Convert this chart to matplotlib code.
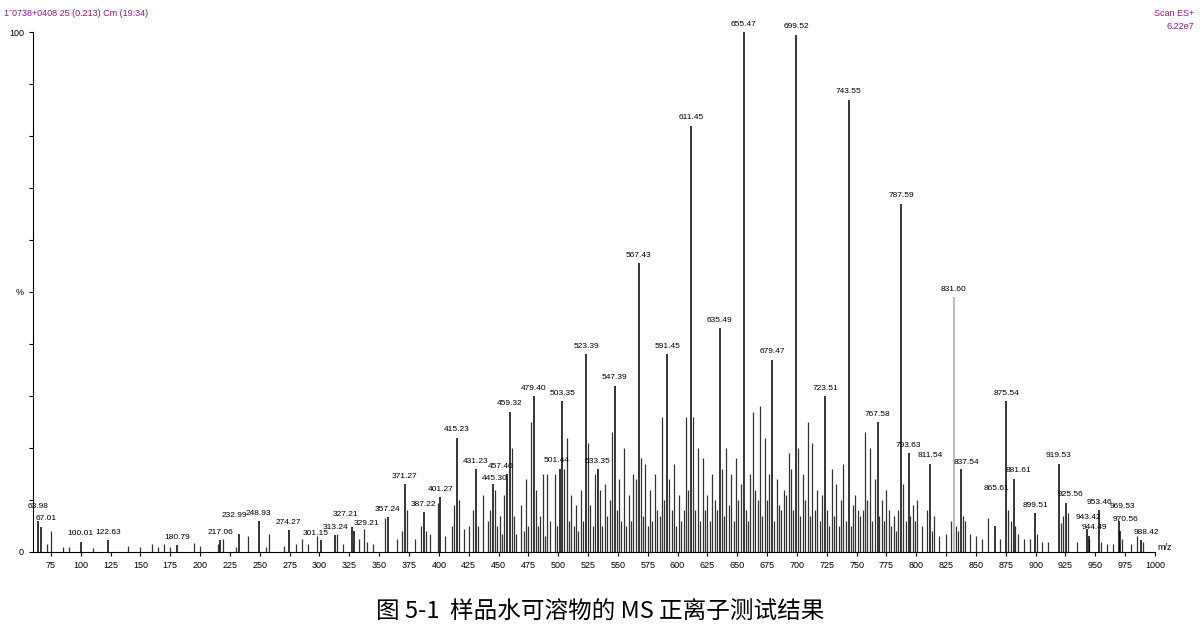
import matplotlib.pyplot as plt
import numpy as np

plt.rcParams['font.family'] = ['Liberation Sans', 'DejaVu Sans']

# labelled peaks (m/z, relative intensity %)
label_mz = [63.98, 67.01, 100.01, 122.63, 180.79, 217.06, 232.99, 248.93, 274.27, 301.15,
            313.24, 327.21, 329.21, 357.24, 371.27, 387.22, 401.27, 415.23, 431.23, 445.30,
            457.40, 459.32, 479.40, 501.44, 503.35, 523.39, 533.35, 547.39, 567.43, 591.45,
            611.45, 635.49, 655.47, 679.47, 699.52, 723.51, 743.55, 767.58, 787.59, 793.63,
            811.54, 831.60, 837.54, 865.61, 875.54, 881.61, 899.51, 919.53, 925.56, 943.42,
            944.49, 953.46, 969.53, 970.56, 988.42]
label_int = [6.0, 4.8, 2.0, 2.3, 1.3, 2.3, 3.5, 6.0, 4.2, 2.3,
             3.3, 4.8, 4.0, 6.7, 13.0, 7.7, 10.5, 22.0, 16.0, 13.0,
             15.0, 27.0, 30.0, 16.0, 29.0, 38.0, 16.0, 32.0, 55.6, 38.0,
             82.0, 43.0, 100.0, 37.0, 99.5, 30.0, 87.0, 25.0, 67.0, 19.0,
             17.0, 49.0, 16.0, 5.0, 29.0, 14.0, 7.5, 17.0, 9.4, 4.4,
             3.0, 8.0, 6.0, 4.0, 2.3]
# labels drawn offset (text x, text y) for a few crowded ones
label_offset = {67.01: (71, 5.8), 232.99: (229, 6.3), 301.15: (297, 2.8), 327.21: (322, 6.6),
                329.21: (339, 4.8),
                445.30: (447, 13.5), 457.40: (452, 15.7), 501.44: (499, 17.0), 837.54: (842, 16.6),
                865.61: (867, 11.6), 881.61: (886, 15.0), 925.56: (929, 10.4), 943.42: (944, 6.0),
                944.49: (949, 4.0), 969.53: (973, 8.0), 970.56: (975, 5.5), 988.42: (993, 3.0),
                63.98: (64, 8.0)}
grey_mz = [831.60]

# unlabelled peaks (m/z, %)
other_mz = [72, 75, 85, 90, 110, 140, 150, 160, 165, 170, 175, 195, 200, 215, 219, 230, 240, 255, 258,
            270, 280, 285, 290, 298, 315, 320, 333, 337, 340, 345, 355, 365, 369, 373, 380, 385, 389,
            393, 399, 405, 411, 413, 417, 421, 425, 429, 433, 437, 441, 443, 447, 449, 451, 453, 455,
            461, 463, 465, 469, 471, 473, 475, 477, 481, 483, 485, 487, 489, 491, 493, 497, 499, 505,
            507, 509, 511, 513, 515, 517, 519, 521, 525, 527, 529, 531, 535, 537, 539, 541, 543, 545,
            549, 551, 553, 555, 557, 559, 561, 563, 565, 569, 571, 573, 575, 577, 579, 581, 583, 585,
            587, 589, 593, 595, 597, 599, 601, 603, 605, 607, 609, 613, 615, 617, 619, 621, 623, 625,
            627, 629, 631, 633, 637, 639, 641, 643, 645, 647, 649, 651, 653, 657, 659, 661, 663, 665,
            667, 669, 671, 673, 675, 677, 681, 683, 685, 687, 689, 691, 693, 695, 697, 701, 703, 705,
            707, 709, 711, 713, 715, 717, 719, 721, 725, 727, 729, 731, 733, 735, 737, 739, 741, 745,
            747, 749, 751, 753, 755, 757, 759, 761, 763, 765, 769, 771, 773, 775, 777, 779, 781, 783,
            785, 789, 791, 795, 797, 799, 801, 805, 809, 813, 815, 819, 825, 829, 833, 835, 839, 841,
            845, 850, 855, 860, 870, 877, 879, 883, 885, 890, 895, 901, 905, 910, 921, 923, 927, 935,
            945, 955, 960, 965, 972, 980, 985, 990]
other_int = [1.5, 4.0, 1.0, 1.0, 0.8, 1.2, 0.9, 1.5, 1.0, 1.5, 1.0, 1.8, 1.2, 1.5, 2.5, 1.0, 3.0, 1.0, 3.5,
             1.2, 1.5, 2.5, 1.5, 3.0, 3.5, 1.5, 2.5, 4.5, 2.0, 1.5, 6.5, 2.5, 4.0, 8.0, 2.5, 5.0, 4.0,
             3.5, 9.5, 3.0, 5.0, 9.0, 10.0, 4.5, 5.0, 8.0, 5.0, 11.0, 6.0, 8.0, 12.0, 5.0, 7.0, 3.5, 11.0,
             20.0, 7.0, 3.5, 9.0, 4.0, 14.0, 5.0, 25.0, 12.0, 5.0, 7.0, 15.0, 3.0, 15.0, 6.0, 15.0, 5.0, 16.0,
             22.0, 6.0, 11.0, 5.0, 9.0, 4.0, 12.0, 6.0, 21.0, 9.0, 5.0, 15.0, 12.0, 5.0, 13.0, 7.0, 10.0, 23.0,
             8.0, 14.0, 6.0, 20.0, 5.0, 11.0, 6.0, 15.0, 14.0, 18.0, 7.0, 17.0, 5.0, 12.0, 6.0, 15.0, 8.0, 7.0,
             26.0, 10.0, 14.0, 8.0, 17.0, 5.0, 11.0, 6.0, 8.0, 26.0, 12.0, 26.0, 8.0, 20.0, 6.0, 18.0, 8.0, 11.0,
             6.0, 15.0, 10.0, 8.0, 16.0, 7.0, 20.0, 9.0, 15.0, 6.0, 18.0, 10.0, 13.0, 8.0, 6.0, 15.0, 27.0, 12.0,
             10.0, 28.0, 7.0, 22.0, 10.0, 15.0, 6.0, 14.0, 9.0, 8.0, 12.0, 11.0, 19.0, 16.0, 8.0, 20.0, 7.0, 15.0,
             10.0, 25.0, 7.0, 21.0, 8.0, 12.0, 6.0, 11.0, 8.0, 5.0, 16.0, 7.0, 13.0, 5.0, 10.0, 17.0, 6.0, 5.0,
             9.0, 11.0, 8.0, 7.0, 8.0, 23.0, 10.0, 20.0, 6.0, 14.0, 7.0, 10.0, 6.0, 12.0, 8.0, 5.0, 7.0, 4.0,
             8.0, 13.0, 6.0, 7.0, 9.0, 6.0, 10.0, 5.0, 8.0, 4.0, 7.0, 3.0, 3.5, 6.0, 5.0, 4.0, 7.0, 6.0,
             3.5, 3.0, 2.5, 6.5, 2.5, 8.0, 6.0, 5.0, 3.5, 2.5, 2.5, 3.5, 2.0, 2.0, 5.5, 7.0, 7.5, 2.0,
             2.5, 2.0, 1.5, 1.5, 2.5, 1.5, 3.0, 2.0]

fig = plt.figure(figsize=(12, 6.41), dpi=100)
ax = fig.add_axes([0.0275, 0.139, 0.935, 0.811])

ax.vlines(other_mz, 0, other_int, color='#333333', lw=0.9)
for mz, h in zip(label_mz, label_int):
    c = '#aaaaaa' if mz in grey_mz else 'black'
    ax.vlines(mz, 0, h, color=c, lw=1.1)
    if mz in label_offset:
        tx, ty = label_offset[mz]
    else:
        tx, ty = mz, h + 0.8
    ax.text(tx, ty, f'{mz:.2f}', fontsize=6, ha='center', va='bottom', color='black')

ax.set_xlim(60, 1000)
ax.set_ylim(0, 100)
ax.set_xticks(np.arange(75, 1001, 25))
ax.tick_params(axis='x', labelsize=6.5, length=3)
ax.set_yticks(np.arange(0, 101, 10))
ax.set_yticklabels(['0', '', '', '', '', '%', '', '', '', '', '100'])
ax.tick_params(axis='y', labelsize=6.5, length=3)
for s in ['top', 'right']:
    ax.spines[s].set_visible(False)
ax.text(1.002, 0.0, 'm/z', transform=ax.transAxes, fontsize=6.5, va='bottom')

fig.text(0.003, 0.975, '1\u02c90738+0408 25 (0.213) Cm (19:34)', fontsize=6.5, color='#8b1a8b')
fig.text(0.995, 0.975, 'Scan ES+', fontsize=6.5, color='#8b1a8b', ha='right')
fig.text(0.995, 0.955, '6.22e7', fontsize=6.5, color='#8b1a8b', ha='right')
fig.text(0.5, 0.035, '图 5-1  样品水可溶物的 MS 正离子测试结果', fontsize=17, ha='center',
         family=['Noto Sans CJK SC', 'DejaVu Sans'])

fig.savefig('out.png', dpi=100)
